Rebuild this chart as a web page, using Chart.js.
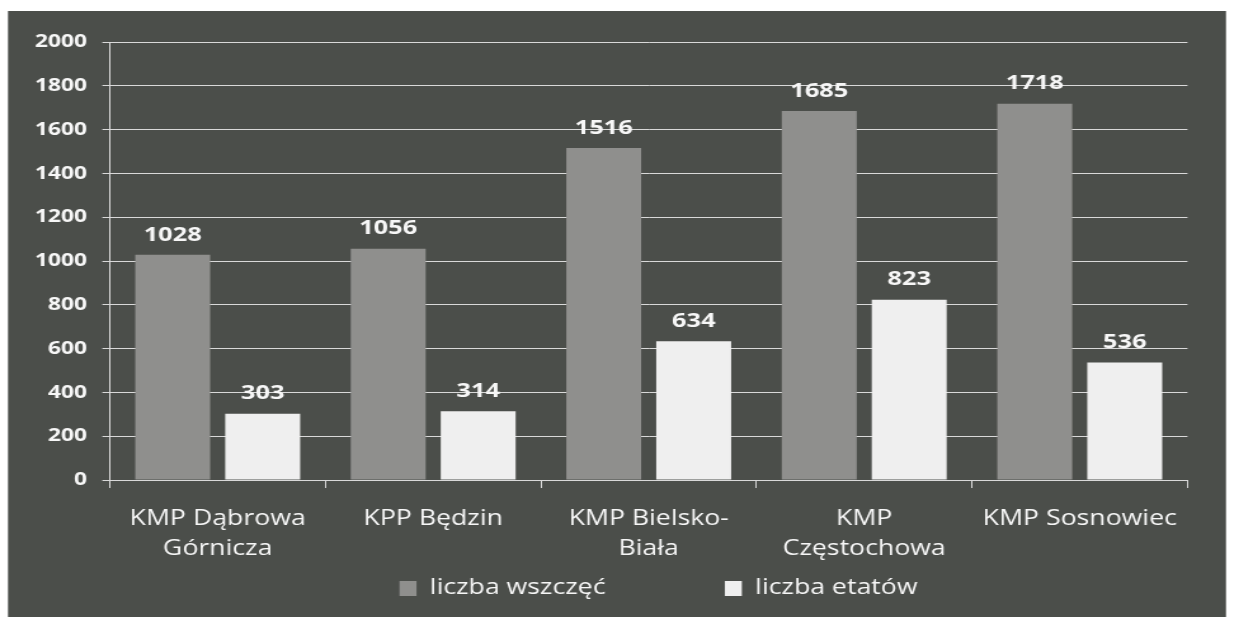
<!DOCTYPE html>
<html>
<head>
<meta charset="utf-8">
<script src="https://cdn.jsdelivr.net/npm/chart.js@4"></script>
<style>
  html, body { margin: 0; padding: 0; background: #ffffff; overflow: hidden; }
  #wrap {
    width: 972px;
    height: 627px;
    transform: scaleX(1.2695);
    transform-origin: 0 0;
  }
</style>
</head>
<body>
<div id="wrap"><canvas id="chart"></canvas></div>
<script>
const categories = [
  ["KMP Dąbrowa", "Górnicza"],
  ["KPP Będzin"],
  ["KMP Bielsko-", "Biała"],
  ["KMP", "Częstochowa"],
  ["KMP Sosnowiec"],
];
const liczbaWszczec = [1028, 1056, 1516, 1685, 1718];
const liczbaEtatow = [303, 314, 634, 823, 536];
const yTicks = [0, 200, 400, 600, 800, 1000, 1200, 1400, 1600, 1800, 2000];

const SX = 1.2695; // horizontal stretch of the picture
const textColor = "#f7f7f7";
const lineColor = "#d9d9d9";

// dark scanned panel behind the chart
const panelBg = {
  id: "panelBg",
  beforeDraw(chart) {
    const ctx = chart.ctx;
    ctx.save();
    ctx.fillStyle = "#4b4e4a";
    ctx.fillRect(8 / SX, 11, (1226 - 8) / SX, 606);
    ctx.restore();
  },
};

// legend sits a bit right of centre in the original
const legendShift = {
  id: "legendShift",
  afterLayout(chart) {
    chart.legend.left += 48;
    chart.legend.right += 48;
  },
};

// numbers above the bars
const valueLabels = {
  id: "valueLabels",
  afterDatasetsDraw(chart) {
    const ctx = chart.ctx;
    ctx.save();
    ctx.font = "bold 20px 'Open Sans'";
    ctx.fillStyle = textColor;
    ctx.textAlign = "center";
    ctx.textBaseline = "middle";
    chart.data.datasets.forEach((ds, i) => {
      chart.getDatasetMeta(i).data.forEach((bar, j) => {
        ctx.fillText(ds.data[j], bar.x, bar.y - 20);
      });
    });
    ctx.restore();
  },
};

new Chart(document.getElementById("chart"), {
  type: "bar",
  data: {
    labels: categories,
    datasets: [
      {
        label: "liczba wszczęć",
        data: liczbaWszczec,
        backgroundColor: "#8f8f8d",
        categoryPercentage: 0.835,
        barPercentage: 0.833,
      },
      {
        label: "liczba etatów",
        data: liczbaEtatow,
        backgroundColor: "#efefef",
        categoryPercentage: 0.835,
        barPercentage: 0.833,
      },
    ],
  },
  options: {
    responsive: true,
    maintainAspectRatio: false,
    animation: false,
    layout: {
      padding: { left: 6, right: 36.6, top: 42, bottom: 18 },
    },
    plugins: {
      legend: {
        position: "bottom",
        labels: {
          color: textColor,
          font: { family: "'Open Sans'", size: 21 },
          boxWidth: 13.4,
          boxHeight: 15,
          padding: 10,
          generateLabels(chart) {
            const items = Chart.defaults.plugins.legend.labels.generateLabels(chart);
            items[0].text = items[0].text + "\u2003\u2003\u2003\u2003";
            items.forEach((it) => { it.strokeStyle = "rgba(0,0,0,0)"; it.lineWidth = 0; });
            return items;
          },
        },
      },
      tooltip: { enabled: false },
    },
    scales: {
      x: {
        grid: {
          drawOnChartArea: false,
          drawTicks: true,
          tickLength: 8,
          color: lineColor,
        },
        border: { display: true, color: lineColor },
        ticks: {
          color: textColor,
          font: { family: "'Open Sans'", size: 21, lineHeight: 1.4 },
          padding: 16.5,
          maxRotation: 0,
          autoSkip: false,
        },
        afterFit(scale) { scale.height = 88; },
      },
      y: {
        min: 0,
        max: 2000,
        afterBuildTicks(scale) { scale.ticks = yTicks.map((v) => ({ value: v })); },
        grid: { color: lineColor, tickLength: 6, lineWidth: 1 },
        border: { display: true, color: lineColor },
        ticks: {
          color: textColor,
          font: { family: "'Open Sans'", size: 18, weight: "bold" },
          padding: 12,
          callback: (v) => String(v),
        },
        afterFit(scale) { scale.width = 80.6; },
      },
    },
  },
  plugins: [panelBg, legendShift, valueLabels],
});
</script>
</body>
</html>
